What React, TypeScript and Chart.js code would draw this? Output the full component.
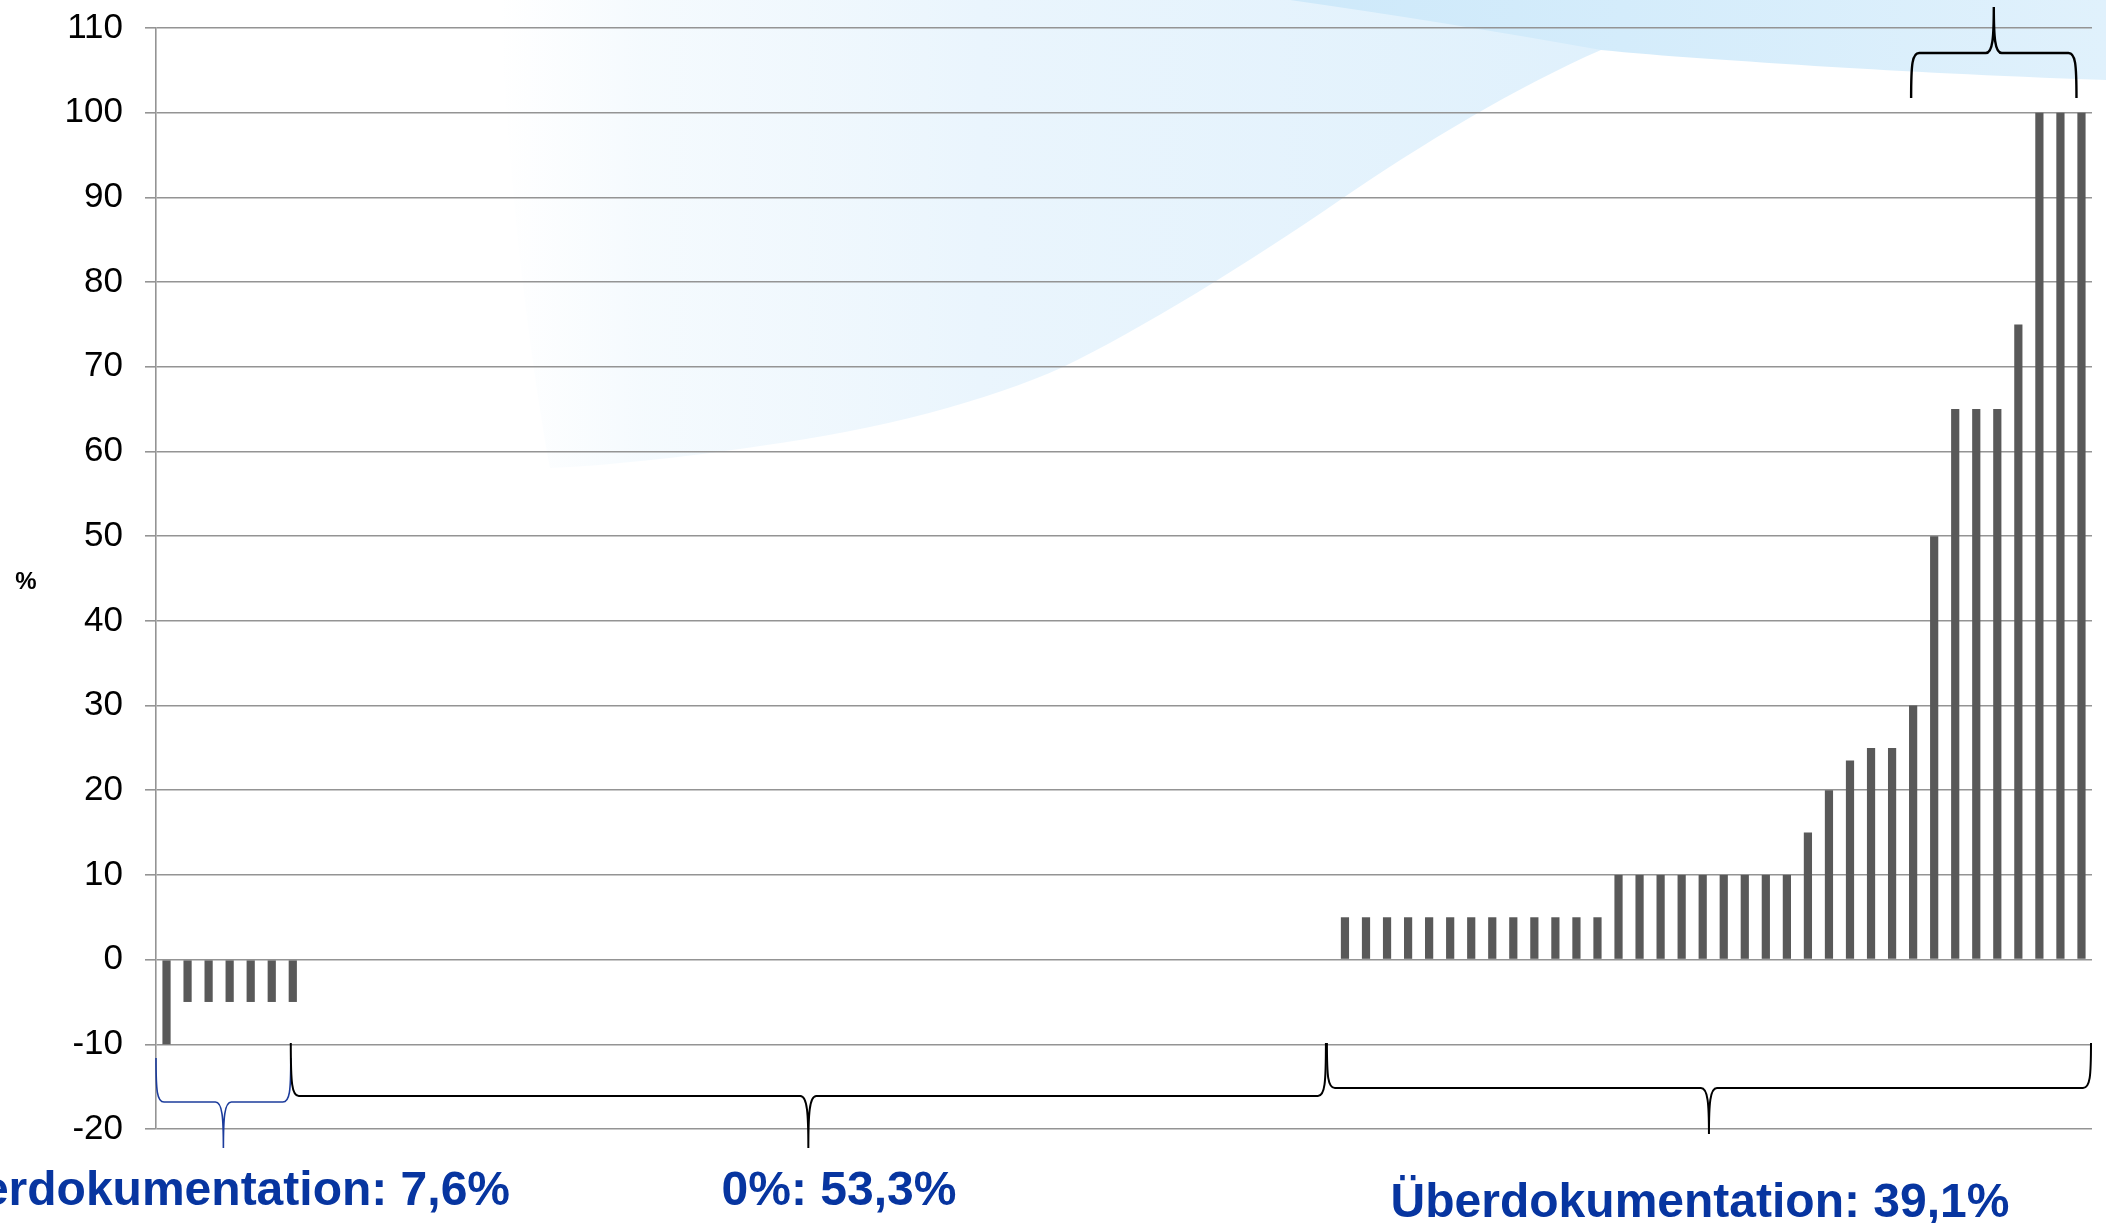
import React, { useEffect, useRef } from "react";
import { Chart, registerables } from "chart.js";

Chart.register(...registerables);

// ---- data ----
const underValues = [-10, -5, -5, -5, -5, -5, -5];
const zeroValues = [
  0, 0, 0, 0, 0, 0, 0, 0, 0, 0,
  0, 0, 0, 0, 0, 0, 0, 0, 0, 0,
  0, 0, 0, 0, 0, 0, 0, 0, 0, 0,
  0, 0, 0, 0, 0, 0, 0, 0, 0, 0,
  0, 0, 0, 0, 0, 0, 0, 0, 0,
];
const overValues = [
  5, 5, 5, 5, 5, 5, 5, 5, 5, 5, 5, 5, 5,
  10, 10, 10, 10, 10, 10, 10, 10, 10,
  15, 20, 23.5, 25, 25, 30, 50, 65, 65, 65, 75, 100, 100, 100,
];
const groupLabels = ["Unterdokumentation: 7,6%", "0%: 53,3%", "Überdokumentation: 39,1%"];
const axisTitle = "%";
const yMin = -20;
const yMax = 110;
const yStep = 10;

const allValues = [...underValues, ...zeroValues, ...overValues];
const categories = allValues.map((_, i) => String(i + 1));

const FONT = "'Liberation Sans', Arial, Helvetica, sans-serif";
const GRID = "#949494";
const BAR = "#595959";
const BLUE_TEXT = "#0735a0";

function drawBrace(
  ctx: CanvasRenderingContext2D,
  x1: number,
  x2: number,
  yEnd: number,
  yH: number,
  yTip: number,
  color: string,
  lw: number
) {
  const xm = (x1 + x2) / 2;
  const r = 8;
  const tipCtl = (yTip - yH) * 0.35;
  ctx.save();
  ctx.strokeStyle = color;
  ctx.lineWidth = lw;
  ctx.lineJoin = "round";
  ctx.lineCap = "butt";
  ctx.beginPath();
  ctx.moveTo(x1, yEnd);
  ctx.bezierCurveTo(x1, yEnd + (yH - yEnd) * 0.75, x1 + 1, yH, x1 + r, yH);
  ctx.lineTo(xm - r, yH);
  ctx.bezierCurveTo(xm - 1, yH, xm, yH + tipCtl, xm, yTip);
  ctx.moveTo(xm, yTip);
  ctx.bezierCurveTo(xm, yH + tipCtl, xm + 1, yH, xm + r, yH);
  ctx.lineTo(x2 - r, yH);
  ctx.bezierCurveTo(x2 - 1, yH, x2, yEnd + (yH - yEnd) * 0.75, x2, yEnd);
  ctx.stroke();
  ctx.restore();
}

const backgroundPlugin = {
  id: "slideBackground",
  beforeDraw(chart: any) {
    const ctx: CanvasRenderingContext2D = chart.ctx;
    const W = chart.width;
    ctx.save();
    ctx.fillStyle = "#ffffff";
    ctx.fillRect(0, 0, W, chart.height);

    // large pale fan
    const g = ctx.createLinearGradient(500, 0, 1700, 0);
    g.addColorStop(0, "rgba(238,247,253,0)");
    g.addColorStop(0.12, "rgba(238,247,253,0.6)");
    g.addColorStop(0.4, "rgba(234,245,253,1)");
    g.addColorStop(1, "rgba(222,240,252,1)");
    ctx.fillStyle = g;
    ctx.beginPath();
    ctx.moveTo(500, 0);
    ctx.lineTo(1760, 0);
    ctx.lineTo(1601, 50);
    ctx.bezierCurveTo(1520, 85, 1420, 145, 1340, 200);
    ctx.bezierCurveTo(1250, 262, 1140, 330, 1063, 367);
    ctx.bezierCurveTo(990, 400, 880, 430, 760, 446);
    ctx.bezierCurveTo(680, 458, 600, 466, 550, 468);
    ctx.bezierCurveTo(520, 300, 505, 120, 500, 0);
    ctx.closePath();
    ctx.fill();

    // top-right band
    const g2 = ctx.createLinearGradient(1300, 0, 2106, 0);
    g2.addColorStop(0, "rgba(206,233,250,1)");
    g2.addColorStop(0.4, "rgba(212,236,251,1)");
    g2.addColorStop(1, "rgba(224,241,252,1)");
    ctx.fillStyle = g2;
    ctx.beginPath();
    ctx.moveTo(1290, 0);
    ctx.lineTo(W, 0);
    ctx.lineTo(W, 80);
    ctx.bezierCurveTo(1990, 76, 1900, 71, 1832, 67);
    ctx.bezierCurveTo(1740, 61, 1660, 56, 1601, 50);
    ctx.bezierCurveTo(1500, 32, 1390, 14, 1290, 0);
    ctx.closePath();
    ctx.fill();
    ctx.restore();
  },
};

const annotationPlugin = {
  id: "braceAnnotations",
  afterDraw(chart: any) {
    const ctx: CanvasRenderingContext2D = chart.ctx;
    const xs = chart.scales.x;
    const area = chart.chartArea;
    const nU = underValues.length;
    const nZ = zeroValues.length;
    const n = allValues.length;
    const xLastUnder = xs.getPixelForValue(nU - 1) - 2;
    const xLastZero = xs.getPixelForValue(nU + nZ - 1) + 2;

    // braces
    drawBrace(ctx, area.left, xLastUnder, 1058, 1102, 1148, "#1c3c9c", 1.6);
    drawBrace(ctx, xLastUnder, xLastZero, 1043, 1096, 1148, "#000000", 2);
    drawBrace(ctx, xLastZero + 1, area.right - 1, 1043, 1088, 1134, "#000000", 2);
    drawBrace(ctx, xs.getPixelForValue(n - 9) - 2, xs.getPixelForValue(n - 1) - 5, 98, 53, 7, "#000000", 2.4);

    // group labels
    ctx.save();
    ctx.fillStyle = BLUE_TEXT;
    ctx.font = `bold 48px ${FONT}`;
    ctx.textBaseline = "alphabetic";
    ctx.textAlign = "right";
    ctx.fillText(groupLabels[0], 510, 1205);
    ctx.textAlign = "center";
    ctx.fillText(groupLabels[1], 839, 1205);
    ctx.fillText(groupLabels[2], 1700, 1217);

    // axis title
    ctx.fillStyle = "#000000";
    ctx.font = `bold 24px ${FONT}`;
    ctx.textBaseline = "middle";
    ctx.fillText(axisTitle, 26, 582);
    ctx.restore();
  },
};

export default function App() {
  const canvasRef = useRef<HTMLCanvasElement | null>(null);

  useEffect(() => {
    const canvas = canvasRef.current;
    if (!canvas) return;
    const chart = new Chart(canvas, {
      type: "bar",
      data: {
        labels: categories,
        datasets: [
          {
            data: allValues,
            backgroundColor: BAR,
            borderWidth: 0,
            barPercentage: 0.39,
            categoryPercentage: 1,
          },
        ],
      },
      options: {
        responsive: false,
        animation: false,
        devicePixelRatio: 1,
        layout: { padding: { left: 0, top: 28, right: 14, bottom: 94 } },
        plugins: {
          legend: { display: false },
          tooltip: { enabled: false },
          title: { display: false },
        },
        scales: {
          x: {
            display: false,
            offset: true,
            grid: { display: false },
          },
          y: {
            min: yMin,
            max: yMax,
            ticks: {
              stepSize: yStep,
              color: "#000000",
              padding: 22,
              font: { size: 35, family: FONT },
            },
            grid: {
              color: GRID,
              lineWidth: 1.6,
              tickLength: 11,
              drawTicks: true,
              tickColor: GRID,
            },
            border: { display: true, color: GRID, width: 1.6 },
            afterFit: (scale: any) => {
              scale.width = 156;
              scale.paddingTop = 0;
              scale.paddingBottom = 0;
            },
          },
        },
      },
      plugins: [backgroundPlugin, annotationPlugin],
    });
    return () => chart.destroy();
  }, []);

  return (
    <div style={{ position: "fixed", left: 0, top: 0, width: 2106, height: 1223, overflow: "hidden", background: "#fff" }}>
      <canvas ref={canvasRef} width={2106} height={1223} style={{ display: "block", width: 2106, height: 1223 }} />
    </div>
  );
}
